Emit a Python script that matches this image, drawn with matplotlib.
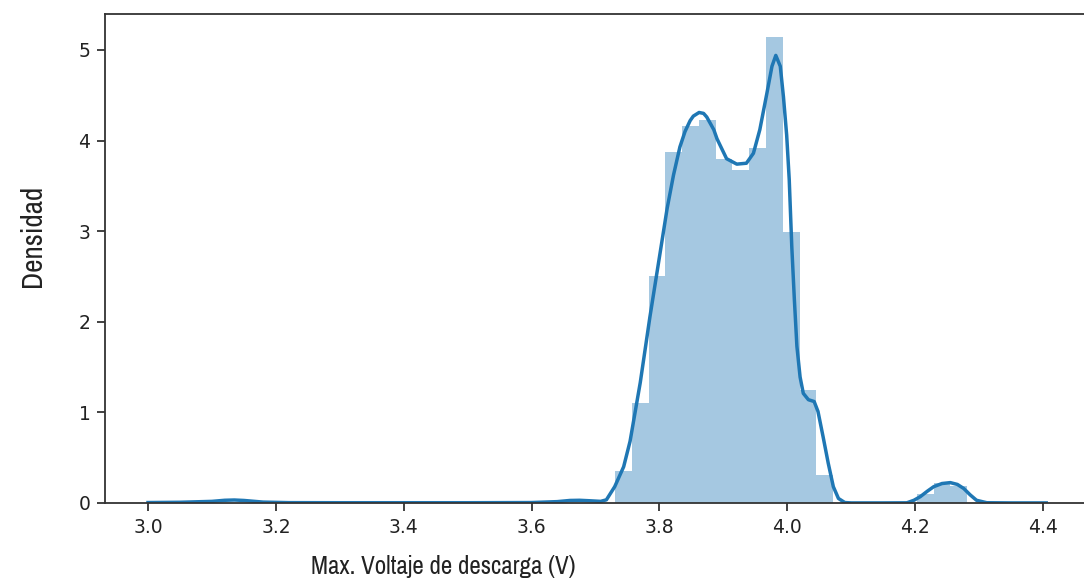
import matplotlib
matplotlib.use("Agg")
import matplotlib.pyplot as plt

# histograma (densidad) del voltaje maximo de descarga
bin_edges = [3.7305, 3.7567, 3.7830, 3.8092, 3.8354, 3.8617, 3.8879, 3.9141,
             3.9404, 3.9666, 3.9928, 4.0191, 4.0453, 4.0715]
bin_dens = [0.35, 1.10, 2.51, 3.87, 4.16, 4.23, 3.80, 3.67, 3.92, 5.14, 2.99, 1.25, 0.31]

bump_edges = [4.2027, 4.2289, 4.2552, 4.2814]
bump_dens = [0.10, 0.22, 0.19]

# curva kde estimada
kde_x = [3.000, 3.050, 3.100, 3.120, 3.135, 3.150, 3.180, 3.220, 3.300, 3.400,
         3.500, 3.600, 3.640, 3.660, 3.675, 3.690, 3.708, 3.717, 3.730, 3.744,
         3.754, 3.770, 3.785, 3.801, 3.812, 3.822, 3.832, 3.840, 3.848, 3.853,
         3.862, 3.869, 3.874, 3.885, 3.890, 3.905, 3.921, 3.936, 3.947, 3.957,
         3.968, 3.976, 3.982, 3.989, 3.994, 3.999, 4.003, 4.007, 4.011, 4.015,
         4.020, 4.025, 4.033, 4.042, 4.048, 4.056, 4.064, 4.072, 4.080, 4.090,
         4.100, 4.150, 4.187, 4.198, 4.208, 4.219, 4.229, 4.242, 4.255, 4.266,
         4.276, 4.286, 4.296, 4.312, 4.350, 4.405]
kde_y = [0.005, 0.008, 0.018, 0.030, 0.033, 0.028, 0.010, 0.004, 0.003, 0.003,
         0.003, 0.005, 0.015, 0.028, 0.030, 0.025, 0.018, 0.035, 0.18, 0.40,
         0.68, 1.33, 2.05, 2.76, 3.25, 3.62, 3.93, 4.10, 4.22, 4.27,
         4.31, 4.30, 4.26, 4.12, 4.02, 3.80, 3.74, 3.75, 3.86, 4.12,
         4.52, 4.82, 4.94, 4.82, 4.48, 4.06, 3.57, 2.83, 2.25, 1.73,
         1.39, 1.21, 1.14, 1.12, 1.01, 0.73, 0.44, 0.18, 0.05, 0.005,
         0.001, 0.001, 0.002, 0.03, 0.07, 0.13, 0.18, 0.215, 0.225, 0.205,
         0.16, 0.09, 0.03, 0.003, 0.001, 0.001]

blue = '#1f77b4'
label_font = ['Archivo Narrow', 'DejaVu Sans']

fig = plt.figure(figsize=(10.84, 5.84), dpi=100)
ax = fig.add_axes([105 / 1084, 1 - 503 / 584, 1 - 105 / 1084, (503 - 14) / 584])

# barras del histograma
widths = [b - a for a, b in zip(bin_edges[:-1], bin_edges[1:])]
ax.bar(bin_edges[:-1], bin_dens, width=widths, align='edge',
       color=blue, alpha=0.4, linewidth=0)
widths2 = [b - a for a, b in zip(bump_edges[:-1], bump_edges[1:])]
ax.bar(bump_edges[:-1], bump_dens, width=widths2, align='edge',
       color=blue, alpha=0.4, linewidth=0)

ax.plot(kde_x, kde_y, color=blue, lw=2.5, solid_joinstyle='round')

ax.set_xlim(2.9327, 4.4641)
ax.set_ylim(0, 5.397)
ax.set_xticks([3.0, 3.2, 3.4, 3.6, 3.8, 4.0, 4.2, 4.4])
ax.set_yticks([0, 1, 2, 3, 4, 5])

ax.spines['right'].set_visible(False)
for s in ['left', 'top', 'bottom']:
    ax.spines[s].set_linewidth(1.3)
    ax.spines[s].set_color('#333333')
ax.tick_params(labelsize=13.5, length=5.5, width=1.3, color='#333333',
               labelcolor='#222222', pad=5)

ax.set_xlabel('Max. Voltaje de descarga (V)', family=label_font,
              fontsize=18, color='#222222')
ax.set_ylabel('Densidad', family=label_font, fontsize=21, color='#222222')
ax.xaxis.set_label_coords(0.345, -0.106)
ax.yaxis.set_label_coords(-0.060, 0.546)

fig.savefig('out.png', dpi=100)
